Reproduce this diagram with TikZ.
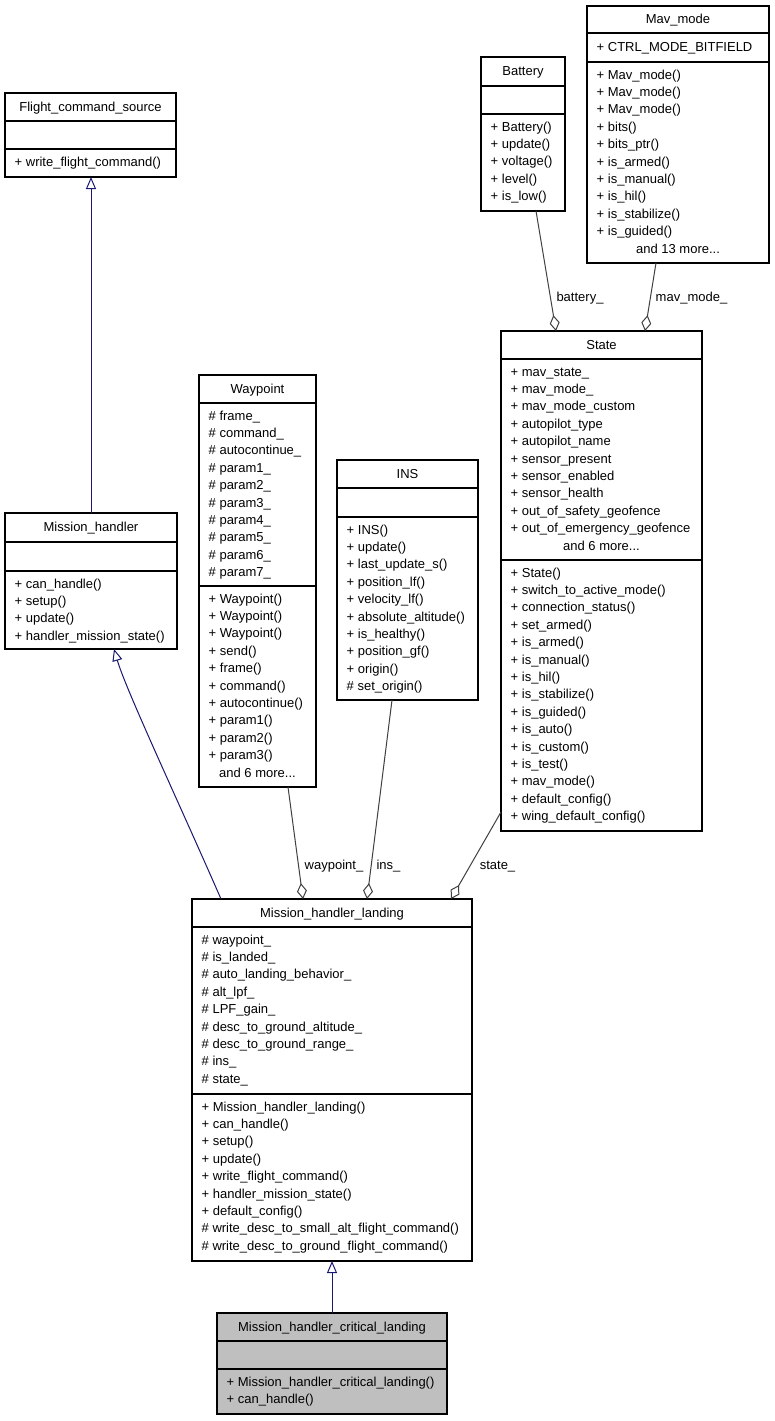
\documentclass[tikz,border=0pt]{standalone}
\usepackage{fontspec}
\setmainfont{Liberation Sans}
\usetikzlibrary{arrows.meta,calc}
\definecolor{inhcol}{RGB}{25,25,112}
\definecolor{aggcol}{RGB}{64,64,64}
\definecolor{grayfill}{RGB}{191,191,191}
\tikzset{
  box/.style={draw=black, line width=1.1pt, inner sep=0pt, outer sep=0pt},
  boxline/.style={draw=black, line width=1.1pt},
  txt/.style={inner sep=0pt, font=\fontsize{13}{16}\selectfont, text=black},
  inh/.style={draw=inhcol, line width=1pt, -{Triangle[open, length=12pt, width=10pt]}},
  agg/.style={draw=aggcol, line width=1pt, -{Diamond[open, length=16pt, width=10pt]}}
}
\newcommand{\umlbox}[8]{%
  \node[box, fill=#8, minimum width={(#4-#2)*1pt}, minimum height={(#7-#3)*1pt}, anchor=north west] (#1) at (#2,#3) {};
  \draw[boxline] (#2,#5) -- (#4,#5);
  \draw[boxline] (#2,#6) -- (#4,#6);
}
\newcommand{\ctitle}[4]{%
  \node[txt, anchor=base] (#1) at ({#2},{#3+4}) {#4};
}
\newcommand{\crows}[4]{%
  \foreach \rowtext [count=\i] in {#4} {
    \node[txt, anchor=base west] (#1\i) at ({#2},{#3+(\i-1)*17.4+4}) {\rowtext};
  }
}
\begin{document}
\begin{tikzpicture}[x=1pt,y=-1pt]
\fill[white] (0,0) rectangle (775,1421);
\useasboundingbox (0,0) rectangle (775,1421);

% Flight_command_source
\umlbox{fcs}{5}{93}{176}{121}{149}{177}{white}
\ctitle{fcsT}{90.5}{107}{Flight\_command\_source}
\crows{fcsM}{14.5}{162.5}{+ write\_flight\_command()}

% Mission_handler
\umlbox{mh}{5}{513}{177}{542}{571}{649}{white}
\ctitle{mhT}{91}{527}{Mission\_handler}
\crows{mhM}{14.5}{584}{+ can\_handle(),+ setup(),+ update(),+ handler\_mission\_state()}

% Battery
\umlbox{bat}{481}{57}{565}{86}{114}{211}{white}
\ctitle{batT}{523}{71}{Battery}
\crows{batM}{490.5}{127}{+ Battery(),+ update(),+ voltage(),+ level(),+ is\_low()}

% Mav_mode
\umlbox{mav}{587}{6}{769}{33}{62}{263}{white}
\ctitle{mavT}{678}{19.5}{Mav\_mode}
\crows{mavA}{596.5}{47.5}{+ CTRL\_MODE\_BITFIELD}
\crows{mavM}{596.5}{75}{+ Mav\_mode(),+ Mav\_mode(),+ Mav\_mode(),+ bits(),+ bits\_ptr(),+ is\_armed(),+ is\_manual(),+ is\_hil(),+ is\_stabilize(),+ is\_guided()}
\ctitle{mavMore}{678}{249}{and 13 more...}

% Waypoint
\umlbox{wp}{199}{375}{316}{403}{586}{787}{white}
\ctitle{wpT}{257.5}{389}{Waypoint}
\crows{wpA}{208.5}{416}{\# frame\_,\# command\_,\# autocontinue\_,\# param1\_,\# param2\_,\# param3\_,\# param4\_,\# param5\_,\# param6\_,\# param7\_}
\crows{wpM}{208.5}{599}{+ Waypoint(),+ Waypoint(),+ Waypoint(),+ send(),+ frame(),+ command(),+ autocontinue(),+ param1(),+ param2(),+ param3()}
\ctitle{wpMore}{257.5}{773}{and 6 more...}

% INS
\umlbox{ins}{337}{460}{478}{488}{517}{700}{white}
\ctitle{insT}{407.5}{474}{INS}
\crows{insM}{346.5}{530}{+ INS(),+ update(),+ last\_update\_s(),+ position\_lf(),+ velocity\_lf(),+ absolute\_altitude(),+ is\_healthy(),+ position\_gf(),+ origin(),\# set\_origin()}

% State
\umlbox{state}{501}{331}{702}{359}{560}{831}{white}
\ctitle{stateT}{601.5}{345}{State}
\crows{stateA}{510.5}{372}{+ mav\_state\_,+ mav\_mode\_,+ mav\_mode\_custom,+ autopilot\_type,+ autopilot\_name,+ sensor\_present,+ sensor\_enabled,+ sensor\_health,+ out\_of\_safety\_geofence,+ out\_of\_emergency\_geofence}
\ctitle{stateMore}{601.5}{546}{and 6 more...}
\crows{stateM}{510.5}{573}{+ State(),+ switch\_to\_active\_mode(),+ connection\_status(),+ set\_armed(),+ is\_armed(),+ is\_manual(),+ is\_hil(),+ is\_stabilize(),+ is\_guided(),+ is\_auto(),+ is\_custom(),+ is\_test(),+ mav\_mode(),+ default\_config(),+ wing\_default\_config()}

% Mission_handler_landing
\umlbox{mhl}{192}{899}{472}{927}{1094}{1261}{white}
\ctitle{mhlT}{332}{913}{Mission\_handler\_landing}
\crows{mhlA}{201.5}{940}{\# waypoint\_,\# is\_landed\_,\# auto\_landing\_behavior\_,\# alt\_lpf\_,\# LPF\_gain\_,\# desc\_to\_ground\_altitude\_,\# desc\_to\_ground\_range\_,\# ins\_,\# state\_}
\crows{mhlM}{201.5}{1107}{+ Mission\_handler\_landing(),+ can\_handle(),+ setup(),+ update(),+ write\_flight\_command(),+ handler\_mission\_state(),+ default\_config(),\# write\_desc\_to\_small\_alt\_flight\_command(),\# write\_desc\_to\_ground\_flight\_command()}

% Mission_handler_critical_landing
\umlbox{mhcl}{217}{1313}{447}{1341}{1369}{1414}{grayfill}
\ctitle{mhclT}{332}{1327}{Mission\_handler\_critical\_landing}
\crows{mhclM}{226.5}{1382}{+ Mission\_handler\_critical\_landing(),+ can\_handle()}

% Inheritance
\draw[inh] (mh.north) -- (mh.north |- fcs.south);
\draw[inh] ($(mhl.north west)+(29,0)$) .. controls (180,805) and (126,690) .. ($(mh.south west)+(109,0)$);
\draw[inh] (mhcl.north) -- (mhl.south);

% Aggregation
\draw[agg] ($(wp.south west)+(89,0)$) -- ($(mhl.north west)+(111,0)$);
\draw[agg] ($(ins.south west)+(55,0)$) -- ($(mhl.north west)+(175,0)$);
\draw[agg] ($(state.south west)+(0,-19)$) -- ($(mhl.north west)+(259,0)$);
\draw[agg] ($(bat.south west)+(55,0)$) -- ($(state.north west)+(55,0)$);
\draw[agg] ($(mav.south west)+(69,0)$) -- ($(state.north west)+(144,0)$);

% Labels
\ctitle{lwp}{334}{865}{waypoint\_}
\ctitle{lins}{388.5}{865}{ins\_}
\ctitle{lstate}{497.5}{865}{state\_}
\ctitle{lbat}{580}{297}{battery\_}
\ctitle{lmav}{691.5}{297}{mav\_mode\_}
\end{tikzpicture}
\end{document}
